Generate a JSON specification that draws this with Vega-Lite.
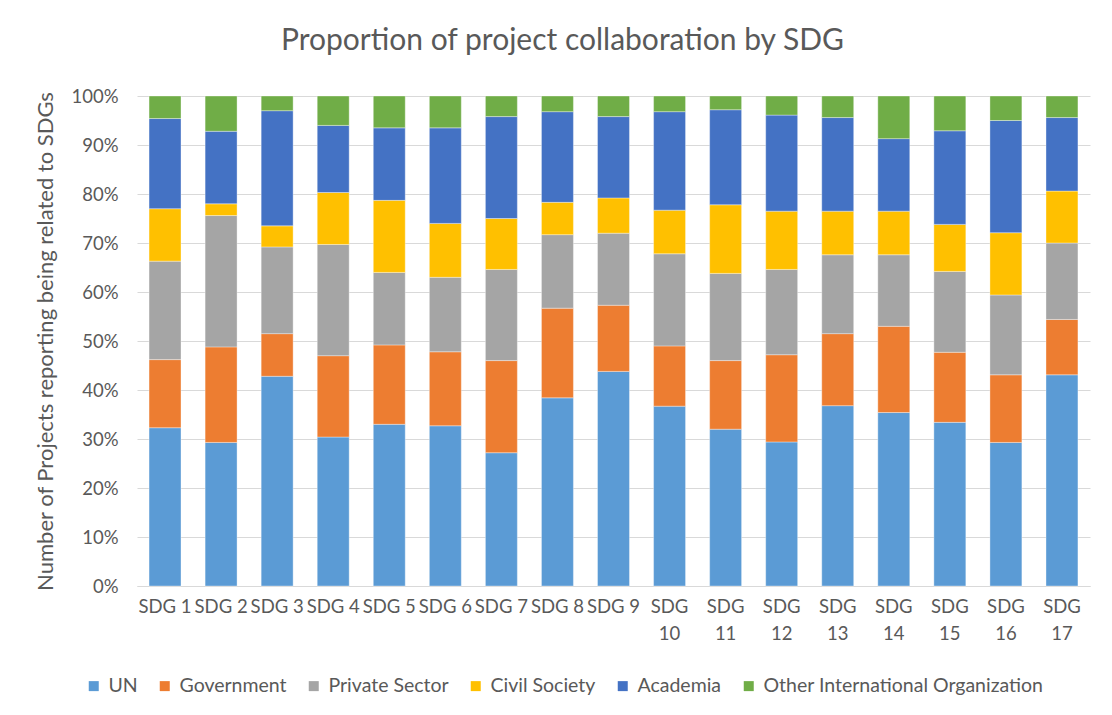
{
  "$schema": "https://vega.github.io/schema/vega-lite/v6.json",
  "autosize": {"type": "none"},
  "padding": {"left": 137, "top": 96, "right": 22, "bottom": 129},
  "width": 953,
  "height": 490,
  "background": "white",
  "title": {
    "text": "Proportion of project collaboration by SDG",
    "fontSize": 30,
    "font": "Lato",
    "fontWeight": "normal",
    "color": "#595959",
    "anchor": "middle",
    "dx": -51,
    "offset": 31
  },
  "data": {
    "values": [
      {"sdg": "SDG 1", "org": "UN", "value": 32.3},
      {"sdg": "SDG 1", "org": "Government", "value": 13.9},
      {"sdg": "SDG 1", "org": "Private Sector", "value": 20.1},
      {"sdg": "SDG 1", "org": "Civil Society", "value": 10.7},
      {"sdg": "SDG 1", "org": "Academia", "value": 18.4},
      {"sdg": "SDG 1", "org": "Other International Organization", "value": 4.6},
      {"sdg": "SDG 2", "org": "UN", "value": 29.3},
      {"sdg": "SDG 2", "org": "Government", "value": 19.5},
      {"sdg": "SDG 2", "org": "Private Sector", "value": 26.8},
      {"sdg": "SDG 2", "org": "Civil Society", "value": 2.4},
      {"sdg": "SDG 2", "org": "Academia", "value": 14.8},
      {"sdg": "SDG 2", "org": "Other International Organization", "value": 7.2},
      {"sdg": "SDG 3", "org": "UN", "value": 42.8},
      {"sdg": "SDG 3", "org": "Government", "value": 8.7},
      {"sdg": "SDG 3", "org": "Private Sector", "value": 17.7},
      {"sdg": "SDG 3", "org": "Civil Society", "value": 4.3},
      {"sdg": "SDG 3", "org": "Academia", "value": 23.5},
      {"sdg": "SDG 3", "org": "Other International Organization", "value": 3.0},
      {"sdg": "SDG 4", "org": "UN", "value": 30.4},
      {"sdg": "SDG 4", "org": "Government", "value": 16.6},
      {"sdg": "SDG 4", "org": "Private Sector", "value": 22.7},
      {"sdg": "SDG 4", "org": "Civil Society", "value": 10.6},
      {"sdg": "SDG 4", "org": "Academia", "value": 13.7},
      {"sdg": "SDG 4", "org": "Other International Organization", "value": 6.0},
      {"sdg": "SDG 5", "org": "UN", "value": 33.0},
      {"sdg": "SDG 5", "org": "Government", "value": 16.2},
      {"sdg": "SDG 5", "org": "Private Sector", "value": 14.8},
      {"sdg": "SDG 5", "org": "Civil Society", "value": 14.7},
      {"sdg": "SDG 5", "org": "Academia", "value": 14.8},
      {"sdg": "SDG 5", "org": "Other International Organization", "value": 6.5},
      {"sdg": "SDG 6", "org": "UN", "value": 32.7},
      {"sdg": "SDG 6", "org": "Government", "value": 15.1},
      {"sdg": "SDG 6", "org": "Private Sector", "value": 15.2},
      {"sdg": "SDG 6", "org": "Civil Society", "value": 11.0},
      {"sdg": "SDG 6", "org": "Academia", "value": 19.5},
      {"sdg": "SDG 6", "org": "Other International Organization", "value": 6.5},
      {"sdg": "SDG 7", "org": "UN", "value": 27.2},
      {"sdg": "SDG 7", "org": "Government", "value": 18.8},
      {"sdg": "SDG 7", "org": "Private Sector", "value": 18.6},
      {"sdg": "SDG 7", "org": "Civil Society", "value": 10.4},
      {"sdg": "SDG 7", "org": "Academia", "value": 20.8},
      {"sdg": "SDG 7", "org": "Other International Organization", "value": 4.2},
      {"sdg": "SDG 8", "org": "UN", "value": 38.4},
      {"sdg": "SDG 8", "org": "Government", "value": 18.3},
      {"sdg": "SDG 8", "org": "Private Sector", "value": 15.0},
      {"sdg": "SDG 8", "org": "Civil Society", "value": 6.6},
      {"sdg": "SDG 8", "org": "Academia", "value": 18.5},
      {"sdg": "SDG 8", "org": "Other International Organization", "value": 3.2},
      {"sdg": "SDG 9", "org": "UN", "value": 43.8},
      {"sdg": "SDG 9", "org": "Government", "value": 13.5},
      {"sdg": "SDG 9", "org": "Private Sector", "value": 14.7},
      {"sdg": "SDG 9", "org": "Civil Society", "value": 7.2},
      {"sdg": "SDG 9", "org": "Academia", "value": 16.6},
      {"sdg": "SDG 9", "org": "Other International Organization", "value": 4.2},
      {"sdg": "SDG 10", "org": "UN", "value": 36.7},
      {"sdg": "SDG 10", "org": "Government", "value": 12.3},
      {"sdg": "SDG 10", "org": "Private Sector", "value": 18.8},
      {"sdg": "SDG 10", "org": "Civil Society", "value": 8.9},
      {"sdg": "SDG 10", "org": "Academia", "value": 20.1},
      {"sdg": "SDG 10", "org": "Other International Organization", "value": 3.2},
      {"sdg": "SDG 11", "org": "UN", "value": 32.0},
      {"sdg": "SDG 11", "org": "Government", "value": 14.0},
      {"sdg": "SDG 11", "org": "Private Sector", "value": 17.8},
      {"sdg": "SDG 11", "org": "Civil Society", "value": 14.0},
      {"sdg": "SDG 11", "org": "Academia", "value": 19.4},
      {"sdg": "SDG 11", "org": "Other International Organization", "value": 2.8},
      {"sdg": "SDG 12", "org": "UN", "value": 29.4},
      {"sdg": "SDG 12", "org": "Government", "value": 17.8},
      {"sdg": "SDG 12", "org": "Private Sector", "value": 17.4},
      {"sdg": "SDG 12", "org": "Civil Society", "value": 11.9},
      {"sdg": "SDG 12", "org": "Academia", "value": 19.6},
      {"sdg": "SDG 12", "org": "Other International Organization", "value": 3.9},
      {"sdg": "SDG 13", "org": "UN", "value": 36.8},
      {"sdg": "SDG 13", "org": "Government", "value": 14.7},
      {"sdg": "SDG 13", "org": "Private Sector", "value": 16.1},
      {"sdg": "SDG 13", "org": "Civil Society", "value": 8.9},
      {"sdg": "SDG 13", "org": "Academia", "value": 19.1},
      {"sdg": "SDG 13", "org": "Other International Organization", "value": 4.4},
      {"sdg": "SDG 14", "org": "UN", "value": 35.4},
      {"sdg": "SDG 14", "org": "Government", "value": 17.6},
      {"sdg": "SDG 14", "org": "Private Sector", "value": 14.6},
      {"sdg": "SDG 14", "org": "Civil Society", "value": 8.9},
      {"sdg": "SDG 14", "org": "Academia", "value": 14.8},
      {"sdg": "SDG 14", "org": "Other International Organization", "value": 8.7},
      {"sdg": "SDG 15", "org": "UN", "value": 33.4},
      {"sdg": "SDG 15", "org": "Government", "value": 14.3},
      {"sdg": "SDG 15", "org": "Private Sector", "value": 16.5},
      {"sdg": "SDG 15", "org": "Civil Society", "value": 9.6},
      {"sdg": "SDG 15", "org": "Academia", "value": 19.1},
      {"sdg": "SDG 15", "org": "Other International Organization", "value": 7.1},
      {"sdg": "SDG 16", "org": "UN", "value": 29.3},
      {"sdg": "SDG 16", "org": "Government", "value": 13.8},
      {"sdg": "SDG 16", "org": "Private Sector", "value": 16.3},
      {"sdg": "SDG 16", "org": "Civil Society", "value": 12.7},
      {"sdg": "SDG 16", "org": "Academia", "value": 22.9},
      {"sdg": "SDG 16", "org": "Other International Organization", "value": 5.0},
      {"sdg": "SDG 17", "org": "UN", "value": 43.1},
      {"sdg": "SDG 17", "org": "Government", "value": 11.3},
      {"sdg": "SDG 17", "org": "Private Sector", "value": 15.6},
      {"sdg": "SDG 17", "org": "Civil Society", "value": 10.6},
      {"sdg": "SDG 17", "org": "Academia", "value": 15.0},
      {"sdg": "SDG 17", "org": "Other International Organization", "value": 4.4}
    ]
  },
  "transform": [
    {"calculate": "indexof(['UN','Government','Private Sector','Civil Society','Academia','Other International Organization'], datum.org)", "as": "rank"}
  ],
  "mark": {"type": "bar", "stroke": "white", "strokeWidth": 0.6, "strokeOpacity": 0.6},
  "encoding": {
    "x": {
      "field": "sdg",
      "type": "nominal",
      "sort": null,
      "scale": {"paddingInner": 0.43, "paddingOuter": 0.215},
      "axis": {
        "title": null,
        "labelAngle": 0,
        "ticks": false,
        "domainColor": "#D9D9D9",
        "domainWidth": 1,
        "labelPadding": 11,
        "labelFontSize": 18.5,
        "labelLineHeight": 27,
        "labelLimit": 200,
        "labelExpr": "length(datum.label) > 5 ? split(datum.label, ' ') : datum.label"
      }
    },
    "y": {
      "field": "value",
      "type": "quantitative",
      "stack": "normalize",
      "scale": {"domain": [0, 1]},
      "axis": {
        "title": "Number of Projects reporting being related to SDGs",
        "titleFontSize": 22,
        "titleFontWeight": "normal",
        "titlePadding": 13,
        "values": [0, 0.1, 0.2, 0.3, 0.4, 0.5, 0.6, 0.7, 0.8, 0.9, 1],
        "format": ".0%",
        "domain": false,
        "ticks": false,
        "labelPadding": 19,
        "labelFontSize": 18.5,
        "gridColor": "#D9D9D9",
        "gridWidth": 1
      }
    },
    "color": {
      "field": "org",
      "type": "nominal",
      "sort": ["UN", "Government", "Private Sector", "Civil Society", "Academia", "Other International Organization"],
      "scale": {
        "domain": ["UN", "Government", "Private Sector", "Civil Society", "Academia", "Other International Organization"],
        "range": ["#5B9BD5", "#ED7D31", "#A5A5A5", "#FFC000", "#4472C4", "#70AD47"]
      },
      "legend": {
        "title": null,
        "orient": "none",
        "direction": "horizontal",
        "legendX": -53,
        "legendY": 580,
        "symbolType": "square",
        "symbolSize": 100,
        "symbolStrokeWidth": 0,
        "labelFontSize": 19.5,
        "labelLimit": 500,
        "labelOffset": 5,
        "columnPadding": 17
      }
    },
    "order": {"field": "rank", "type": "quantitative", "sort": "ascending"}
  },
  "config": {
    "font": "Lato",
    "view": {"stroke": null},
    "axis": {"labelColor": "#595959", "titleColor": "#595959", "labelFont": "Lato", "titleFont": "Lato"},
    "legend": {"labelColor": "#595959", "labelFont": "Lato"}
  }
}
